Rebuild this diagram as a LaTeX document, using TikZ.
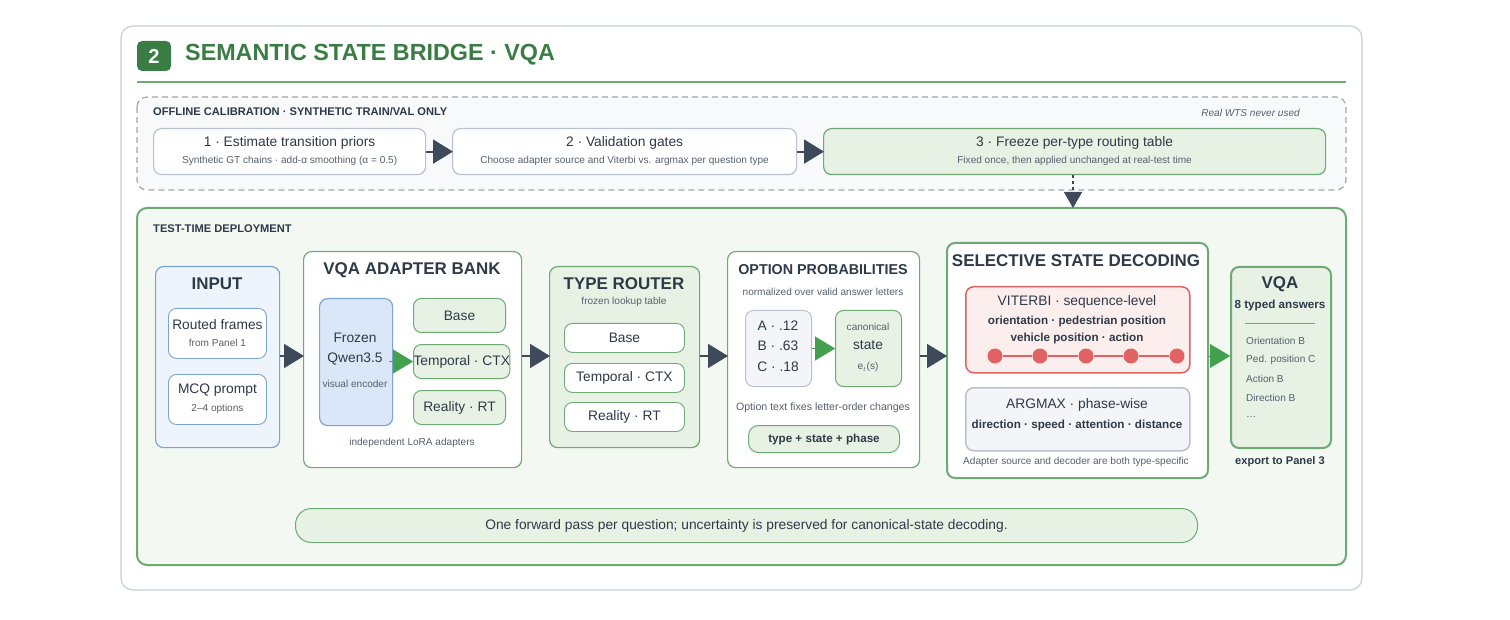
\documentclass[tikz,border=0pt]{standalone}
\usepackage{fontspec}
\setmainfont{Liberation Sans}
\usetikzlibrary{arrows.meta,calc}
\definecolor{txt}{HTML}{2E3A48}
\definecolor{sub}{HTML}{55606C}
\definecolor{gtitle}{HTML}{3A7D44}
\definecolor{gbord}{HTML}{6DAA74}
\definecolor{gfill}{HTML}{E7F2E5}
\definecolor{gpale}{HTML}{F3F8F2}
\definecolor{bbord}{HTML}{7BA3D4}
\definecolor{bfill}{HTML}{EEF4FB}
\definecolor{bfill2}{HTML}{D9E7F8}
\definecolor{arr}{HTML}{3E4A5A}
\definecolor{gray1}{HTML}{B9C2CC}
\definecolor{rbord}{HTML}{E06262}
\definecolor{rfill}{HTML}{FDEEEE}
\definecolor{afill}{HTML}{F3F5F8}
\definecolor{garrc}{HTML}{43A04F}
\newcommand{\fs}[1]{\fontsize{\fpeval{#1*1.06}}{\fpeval{#1*1.27}}\selectfont}
\tikzset{
 x=1pt,y=-1pt,
 box/.style={draw=#1,rounded corners=8pt,line width=1.2pt},
 lbl/.style={text=txt,inner sep=0,align=center},
 darr/.style={draw=arr,fill=arr,line width=2pt,-{Triangle[length=20pt,width=24pt]},shorten >=-1pt},
 garr/.style={draw=garrc,fill=garrc,line width=0.1pt,-{Triangle[length=20pt,width=24pt]}},
}
\begin{document}
\begin{tikzpicture}
\useasboundingbox (0,0) rectangle (1510,620);
\fill[white] (0,0) rectangle (1510,620);
% outer panel
\draw[draw=gray1!80,line width=1.2pt,fill=white,rounded corners=12pt] (121,26) rectangle (1362,590);
\node[fill=gtitle,rounded corners=5pt,minimum width=34pt,minimum height=30pt,text=white,font=\fs{19}\bfseries,inner sep=0] (badge) at (154,56) {2};
\node[anchor=west,text=gtitle,font=\fs{22}\bfseries,inner sep=0] (title) at (185,55) {SEMANTIC STATE BRIDGE · VQA};
\draw[gbord,line width=1.5pt] (137,82) -- (1346,82);
% offline
\draw[draw=gray!70,line width=1.2pt,fill=afill!60,rounded corners=10pt,dash pattern=on 6pt off 4pt] (137,97) rectangle (1346,190);
\node[anchor=west,lbl,font=\fs{10.5}\bfseries] (offl) at (153,112) {OFFLINE CALIBRATION · SYNTHETIC TRAIN/VAL ONLY};
\node[anchor=east,text=sub,font=\fs{9.5}\itshape,inner sep=0] (real) at (1300,113) {Real WTS never used};
\node[box=gray1,fill=white,minimum width=272pt,minimum height=46pt,anchor=north west,inner sep=0] (s1) at (153,128) {};
\node[lbl,font=\fs{13}] at ($(s1.center)+(0,-9)$) {1 · Estimate transition priors};
\node[lbl,font=\fs{9.5},text=sub] at ($(s1.center)+(0,9)$) {Synthetic GT chains · add-α smoothing (α = 0.5)};
\node[box=gray1,fill=white,minimum width=344pt,minimum height=46pt,anchor=north west,inner sep=0] (s2) at (452,128) {};
\node[lbl,font=\fs{13}] at ($(s2.center)+(0,-9)$) {2 · Validation gates};
\node[lbl,font=\fs{9.5},text=sub] at ($(s2.center)+(0,9)$) {Choose adapter source and Viterbi vs. argmax per question type};
\node[box=gbord,fill=gfill,minimum width=502pt,minimum height=46pt,anchor=north west,inner sep=0] (s3) at (823,128) {};
\node[lbl,font=\fs{13}] at ($(s3.center)+(0,-9)$) {3 · Freeze per-type routing table};
\node[lbl,font=\fs{9.5},text=sub] at ($(s3.center)+(0,9)$) {Fixed once, then applied unchanged at real-test time};
\draw[darr] (s1) -- (s2);
\draw[darr] (s2) -- (s3);
% test-time
\draw[draw=gbord,fill=gpale,line width=2pt,rounded corners=10pt] (137,208) rectangle (1346,565);
\coordinate (testtop) at (1073,208);
\draw[arr,line width=1.5pt,dashed,-{Triangle[length=16pt,width=18pt]}] (s3.south -| testtop) -- (testtop);
\node[anchor=west,lbl,font=\fs{10.5}\bfseries] (tt) at (153,229) {TEST-TIME DEPLOYMENT};
\coordinate (midy) at (0,356);
% INPUT
\node[box=bbord,fill=bfill,minimum width=124pt,minimum height=181pt,anchor=north west,inner sep=0] (inp) at (155,266) {};
\node[lbl,font=\fs{16}\bfseries] at (217,284) {INPUT};
\node[box=bbord,fill=white,minimum width=98pt,minimum height=50pt,anchor=north west,inner sep=0,line width=0.9pt] (rf) at (168,308) {};
\node[lbl,font=\fs{13}] at ($(rf.center)+(0,-9)$) {Routed frames};
\node[lbl,font=\fs{9.5},text=sub] at ($(rf.center)+(0,9)$) {from Panel 1};
\node[box=bbord,fill=white,minimum width=98pt,minimum height=50pt,anchor=north west,inner sep=0,line width=0.9pt] (mcq) at (168,374) {};
\node[lbl,font=\fs{13}] at ($(mcq.center)+(0,-9)$) {MCQ prompt};
\node[lbl,font=\fs{9.5},text=sub] at ($(mcq.center)+(0,9)$) {2–4 options};
% adapter bank
\node[box=gbord,fill=white,minimum width=218pt,minimum height=216pt,anchor=north west,inner sep=0] (bank) at (303,251) {};
\node[lbl,font=\fs{16}\bfseries] at (412,270) {VQA ADAPTER BANK};
\node[box=bbord,fill=bfill2,minimum width=73pt,minimum height=127pt,anchor=north west,inner sep=0] (qw) at (319,298) {};
\node[lbl,font=\fs{13}] at (355,338) {Frozen};
\node[lbl,font=\fs{13}] at (355,359) {Qwen3.5};
\node[lbl,font=\fs{9.5},text=sub] at (355,384) {visual encoder};
\tikzset{ad/.style={box=gbord,fill=gfill,minimum width=92pt,minimum height=34pt,anchor=north west,inner sep=0,font=\fs{13},text=txt,line width=1pt}}
\node[ad] (a1) at (413,298) {Base};
\node[ad] (a2) at (413,344) {Temporal · CTX};
\node[ad] (a3) at (413,390) {Reality · RT};
\draw[garr] ([xshift=-4pt]qw.east |- a2) -- (a2.west);
\node[lbl,font=\fs{9.5},text=sub] at (412,443) {independent LoRA adapters};
% type router
\node[box=gbord,fill=gfill,minimum width=150pt,minimum height=181pt,anchor=north west,inner sep=0] (rt) at (549,266) {};
\node[lbl,font=\fs{16}\bfseries] at (624,284) {TYPE ROUTER};
\node[lbl,font=\fs{9.5},text=sub] at (624,302) {frozen lookup table};
\tikzset{rb/.style={box=gbord,fill=white,minimum width=120pt,minimum height=29pt,anchor=north west,inner sep=0,font=\fs{13},text=txt,line width=0.9pt}}
\node[rb] (r1) at (564,323) {Base};
\node[rb] (r2) at (564,363) {Temporal · CTX};
\node[rb] (r3) at (564,402) {Reality · RT};
% option probs
\node[box=gbord,fill=white,minimum width=192pt,minimum height=216pt,anchor=north west,inner sep=0] (op) at (727,251) {};
\node[lbl,font=\fs{13.5}\bfseries] at (823,270) {OPTION PROBABILITIES};
\node[lbl,font=\fs{9.5},text=sub] at (823,292) {normalized over valid answer letters};
\node[box=gray1,fill=afill,minimum width=66pt,minimum height=76pt,anchor=north west,inner sep=0,line width=1pt] (lt) at (745,310) {};
\node[lbl,font=\fs{13}] at (778,326) {A · .12};
\node[lbl,font=\fs{13}] at (778,346) {B · .63};
\node[lbl,font=\fs{13}] at (778,367) {C · .18};
\node[box=gbord,fill=gfill,minimum width=66pt,minimum height=76pt,anchor=north west,inner sep=0,line width=1pt] (cs) at (835,310) {};
\node[lbl,font=\fs{9.5},text=sub] at (868,327) {canonical};
\node[lbl,font=\fs{13}] at (868,345) {state};
\node[lbl,font=\fs{9.5},text=sub] at (868,367) {e$_t$(s)};
\draw[garr] (lt) -- (cs);
\node[lbl,font=\fs{10},text=sub] at (823,408) {Option text fixes letter-order changes};
\node[box=gbord,fill=gfill,minimum width=151pt,minimum height=27pt,anchor=north west,inner sep=0,font=\fs{11}\bfseries,text=txt,line width=1pt,rounded corners=10pt] (pill) at (748,425) {type + state + phase};
% selective
\node[box=gbord,fill=white,minimum width=261pt,minimum height=235pt,anchor=north west,inner sep=0,line width=2pt] (sel) at (946,242) {};
\node[lbl,font=\fs{16}\bfseries] at (1076,261) {SELECTIVE STATE DECODING};
\node[box=rbord,fill=rfill,minimum width=224pt,minimum height=86pt,anchor=north west,inner sep=0,line width=1.5pt] (vit) at (965,286) {};
\node[lbl,font=\fs{13}] at (1077,302) {VITERBI · sequence-level};
\node[lbl,font=\fs{11}\bfseries] at (1077,321) {orientation · pedestrian position};
\node[lbl,font=\fs{11}\bfseries] at (1077,338) {vehicle position · action};
\foreach \i/\x in {1/995,2/1040,3/1086,4/1131,5/1177} \node[circle,fill=rbord,minimum size=15pt,inner sep=0] (d\i) at (\x,356) {};
\foreach \a/\b in {1/2,2/3,3/4,4/5} \draw[rbord,line width=1.6pt] (d\a) -- (d\b);
\node[box=gray1,fill=afill,minimum width=224pt,minimum height=63pt,anchor=north west,inner sep=0,line width=1.5pt] (am) at (965,387) {};
\node[lbl,font=\fs{13}] at (1077,405) {ARGMAX · phase-wise};
\node[lbl,font=\fs{11}\bfseries] at (1077,425) {direction · speed · attention · distance};
\node[lbl,font=\fs{9.5},text=sub] at (1076,462) {Adapter source and decoder are both type-specific};
% VQA
\node[box=gbord,fill=gfill,minimum width=100pt,minimum height=181pt,anchor=north west,inner sep=0,line width=2pt] (vqa) at (1230,266) {};
\node[lbl,font=\fs{16}\bfseries] at (1280,284) {VQA};
\node[lbl,font=\fs{11}\bfseries] at (1280,305) {8 typed answers};
\draw[gbord,line width=0.8pt] (1245,323) -- (1315,323);
\foreach \t/\y in {Orientation B/341,Ped. position C/360,Action B/379,Direction B/398,…/417}
  \node[anchor=west,inner sep=0,font=\fs{9.5},text=sub] at (1246,\y) {\t};
\node[lbl,font=\fs{10.5}\bfseries] at (1280,462) {export to Panel 3};
% main arrows (horizontal at y=356)
\draw[darr] (inp.east |- midy) -- (bank.west |- midy);
\draw[darr] (bank.east |- midy) -- (rt.west |- midy);
\draw[darr] (rt.east |- midy) -- (op.west |- midy);
\draw[darr] (op.east |- midy) -- (sel.west |- midy);
\draw[garr] (sel.east |- midy) -- (vqa.west |- midy);
% bottom note
\node[box=gbord,fill=gfill,minimum width=902pt,minimum height=34pt,anchor=north west,inner sep=0,rounded corners=16pt,line width=1pt,font=\fs{13},text=txt] (note) at (295,508) {One forward pass per question; uncertainty is preserved for canonical-state decoding.};
\end{tikzpicture}
\end{document}
